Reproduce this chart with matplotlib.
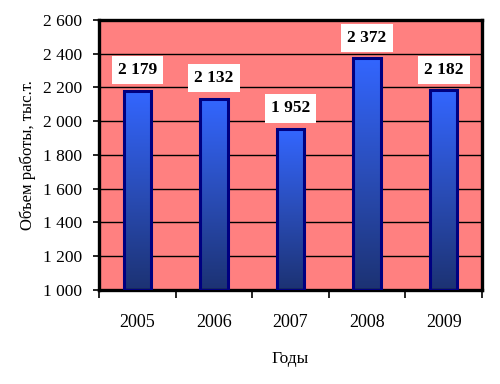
import numpy as np
import matplotlib
matplotlib.use("Agg")
import matplotlib.pyplot as plt
from matplotlib.colors import LinearSegmentedColormap

years = ["2005", "2006", "2007", "2008", "2009"]
volumes = [2179, 2132, 1952, 2372, 2182]
y_ticks = [1000, 1200, 1400, 1600, 1800, 2000, 2200, 2400, 2600]

plt.rcParams['font.family'] = ['Liberation Serif', 'DejaVu Serif']

fig = plt.figure(figsize=(5.0, 3.84), dpi=100)
ax = fig.add_axes([0.198, 0.245, 0.766, 0.703])
ax.set_facecolor('#FF8080')

x = np.arange(len(years))
ax.set_xlim(-0.5, len(years) - 0.5)
ax.set_ylim(1000, 2600)

# gradient fill for the bars
cmap = LinearSegmentedColormap.from_list('bar', ['#1C3273', '#2A4DB8', '#3366FF'])
grad = np.linspace(0, 1, 256).reshape(-1, 1)
bars = ax.bar(x, np.array(volumes) - 1000, bottom=1000, width=0.36,
              color='none', edgecolor='#000080', linewidth=2.2, zorder=3)
for b in bars:
    im = ax.imshow(grad, cmap=cmap, origin='lower', aspect='auto',
                   extent=[b.get_x(), b.get_x() + b.get_width(), 1000, b.get_y() + b.get_height()],
                   zorder=2)
    im.set_clip_path(b)

ax.set_yticks(y_ticks)
ax.set_yticklabels([f"{v:,}".replace(",", " ") for v in y_ticks], fontsize=12.5)
ax.yaxis.grid(True, color='black', linewidth=1)
ax.set_axisbelow(True)

ax.set_xticks(x)
ax.set_xticklabels(years, fontsize=13)
ax.tick_params(axis='x', which='major', length=0, pad=17)
ax.set_xticks(np.arange(-0.5, len(years)), minor=True)
ax.tick_params(axis='x', which='minor', length=6, width=1.2, direction='out')
ax.tick_params(axis='y', length=4, width=1.2, direction='out', pad=8)

for s in ax.spines.values():
    s.set_linewidth(2.4)
    s.set_color('black')

for xi, v in zip(x, volumes):
    ax.annotate(f"{v:,}".replace(",", " "), (xi, v), xytext=(0, 15),
                textcoords='offset points', ha='center', va='center',
                fontsize=12.5, fontweight='bold', zorder=5,
                bbox=dict(boxstyle='square,pad=0.35', fc='white', ec='none'))

ax.set_ylabel("Объем работы, тыс.т.", fontsize=12, labelpad=5)
ax.set_xlabel("Годы", fontsize=12.5, labelpad=15)

fig.savefig("out.png", dpi=100)
